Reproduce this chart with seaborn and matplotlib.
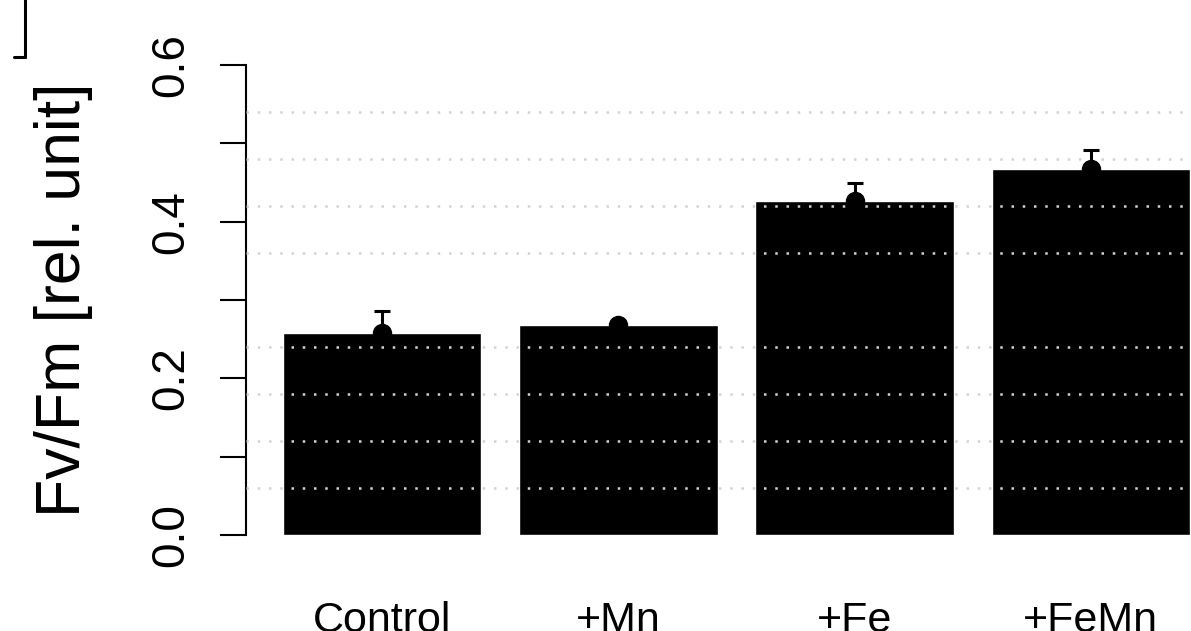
import numpy as np
import pandas as pd
import seaborn as sns
import matplotlib.pyplot as plt
from matplotlib.lines import Line2D

# data
treatments = ['Control', '+Mn', '+Fe', '+FeMn']
fv_fm_mean = [0.258, 0.268, 0.427, 0.467]
fv_fm_err_up = [0.028, 0.004, 0.022, 0.024]

df = pd.DataFrame({'treatment': treatments, 'fv_fm': fv_fm_mean})

sns.set_style('white')
plt.rcParams['font.family'] = ['Liberation Sans', 'DejaVu Sans']
plt.rcParams['text.color'] = 'black'
plt.rcParams['xtick.color'] = 'black'
plt.rcParams['ytick.color'] = 'black'
plt.rcParams['axes.labelcolor'] = 'black'

fig = plt.figure(figsize=(11.91, 6.31), dpi=100)
ax = fig.add_axes([0.2066, 0.1273, 0.7934, 0.8193])

# bars, R barplot style (space 0.2)
sns.barplot(data=df, x='treatment', y='fv_fm', color='black', width=0.84,
            errorbar=None, saturation=1, ax=ax, zorder=1)

# means with upper error only
xpos = np.arange(len(treatments))
ax.errorbar(xpos, fv_fm_mean, yerr=[np.zeros(len(treatments)), fv_fm_err_up],
            fmt='o', color='black', markersize=13, elinewidth=2.2,
            capsize=6, capthick=2.2, zorder=4)

ax.set_xlim(-0.5755, 3.424)
ax.set_ylim(-0.02, 0.64)

# dotted grey grid drawn over the bars
ax.set_yticks(np.arange(0, 0.61, 0.1))
ax.set_yticklabels(['0.0', '', '0.2', '', '0.4', '', '0.6'], va='center')
ax.set_yticks(np.arange(0.06, 0.541, 0.06), minor=True)
ax.grid(False)
ax.set_axisbelow(False)
ax.yaxis.grid(True, which='minor', color='lightgray', linestyle=(0, (1, 3.5)),
              linewidth=1.8)

for side in ['top', 'right', 'bottom']:
    ax.spines[side].set_visible(False)
ax.spines['left'].set_bounds(0, 0.6)
ax.spines['left'].set_linewidth(1.5)
ax.spines['left'].set_color('black')

ax.tick_params(axis='y', which='major', length=18.7, width=1.5,
               labelsize=33, pad=19, labelrotation=90, left=True)
ax.tick_params(axis='y', which='minor', length=0)
ax.tick_params(axis='x', length=0, labelsize=31, pad=36)

ax.set_xlabel('')
ax.set_ylabel('Fv/Fm [rel. unit]', fontsize=45)
ax.yaxis.set_label_coords(-0.162, 0.485)

# bracket left over from the neighbouring panel
fig.add_artist(Line2D([0.021, 0.021], [1.0, 0.9097], color='black', lw=2.2,
                      transform=fig.transFigure))
fig.add_artist(Line2D([0.0118, 0.021], [0.9097, 0.9097], color='black', lw=2.2,
                      transform=fig.transFigure))

fig.savefig('out.png', dpi=100)
